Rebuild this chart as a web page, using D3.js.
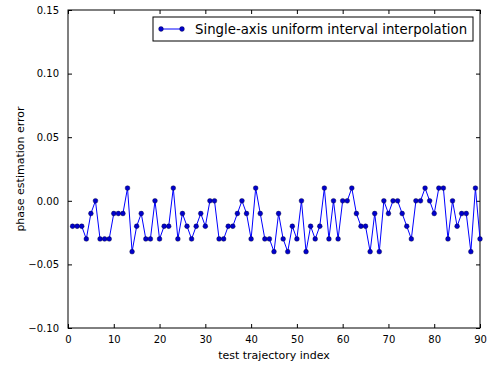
<!DOCTYPE html>
<meta charset="utf-8">
<script src="https://d3js.org/d3.v7.min.js"></script>
<style>
  body { margin: 0; background: #fff; }
  text { font-family: "DejaVu Sans", sans-serif; fill: #000; }
</style>
<div id="my_dataviz"></div>
<script>

// values, index 1..90
var trajIndex = d3.range(1, 91);
var phaseError = [
  -0.02, -0.02, -0.02, -0.03, -0.01,  0.00, -0.03, -0.03, -0.03, -0.01,
  -0.01, -0.01,  0.01, -0.04, -0.02, -0.01, -0.03, -0.03,  0.00, -0.03,
  -0.02, -0.02,  0.01, -0.03, -0.01, -0.02, -0.03, -0.02, -0.01, -0.02,
   0.00,  0.00, -0.03, -0.03, -0.02, -0.02, -0.01,  0.00, -0.01, -0.03,
   0.01, -0.01, -0.03, -0.03, -0.04, -0.01, -0.03, -0.04, -0.02, -0.03,
   0.00, -0.04, -0.02, -0.03, -0.02,  0.01, -0.03,  0.00, -0.03,  0.00,
   0.00,  0.01, -0.01, -0.02, -0.02, -0.04, -0.01, -0.04,  0.00, -0.01,
   0.00,  0.00, -0.01, -0.02, -0.03,  0.00,  0.00,  0.01,  0.00, -0.01,
   0.01,  0.01, -0.03,  0.00, -0.02, -0.01, -0.01, -0.04,  0.01, -0.03
];
var xTicks = [0, 10, 20, 30, 40, 50, 60, 70, 80, 90];
var yTicks = [-0.10, -0.05, 0.00, 0.05, 0.10, 0.15];
var seriesName = "Single-axis uniform interval interpolation";

var margin = {top: 10, right: 10, bottom: 37, left: 68},
    width = 490 - margin.left - margin.right,
    height = 365 - margin.top - margin.bottom;

var svg = d3.select("#my_dataviz")
  .append("svg")
    .attr("width", 490)
    .attr("height", 365)
  .append("g")
    .attr("transform", "translate(" + margin.left + "," + margin.top + ")");

var x = d3.scaleLinear().domain([0, 90]).range([0, width]);
var y = d3.scaleLinear().domain([-0.10, 0.15]).range([height, 0]);

var fmtY = function(d) { return d3.format(".2f")(d).replace("-", "\u2212"); };

// axes with inward ticks on all four sides
svg.append("g")
  .attr("transform", "translate(0," + height + ")")
  .call(d3.axisBottom(x).tickValues(xTicks).tickSizeInner(-4).tickSizeOuter(0).tickPadding(8))
  .call(function(g) { g.select(".domain").remove(); })
  .selectAll("text").style("font-size", "10px");
svg.append("g")
  .call(d3.axisTop(x).tickValues(xTicks).tickSizeInner(-4).tickSizeOuter(0).tickFormat(""))
  .call(function(g) { g.select(".domain").remove(); });
svg.append("g")
  .call(d3.axisLeft(y).tickValues(yTicks).tickFormat(fmtY).tickSizeInner(-4).tickSizeOuter(0).tickPadding(9))
  .call(function(g) { g.select(".domain").remove(); })
  .selectAll("text").style("font-size", "10px");
svg.append("g")
  .attr("transform", "translate(" + width + ",0)")
  .call(d3.axisRight(y).tickValues(yTicks).tickSizeInner(-4).tickSizeOuter(0).tickFormat(""))
  .call(function(g) { g.select(".domain").remove(); });
svg.selectAll(".tick line").attr("stroke", "#000");

// frame
svg.append("rect")
  .attr("width", width).attr("height", height)
  .attr("fill", "none").attr("stroke", "#000").attr("stroke-width", 1);

// series
var pts = trajIndex.map(function(d, i) { return {i: d, v: phaseError[i]}; });
svg.append("path")
  .datum(pts)
  .attr("fill", "none")
  .attr("stroke", "#0000ff")
  .attr("stroke-width", 1)
  .attr("d", d3.line().x(function(d) { return x(d.i); }).y(function(d) { return y(d.v); }));
svg.selectAll("mydots")
  .data(pts)
  .enter()
  .append("circle")
    .attr("cx", function(d) { return x(d.i); })
    .attr("cy", function(d) { return y(d.v); })
    .attr("r", 2.4)
    .attr("fill", "#0000cc")
    .attr("stroke", "#000033")
    .attr("stroke-width", 0.4);

// axis labels
svg.append("text")
  .attr("x", width / 2).attr("y", height + 31)
  .attr("text-anchor", "middle")
  .style("font-size", "11px")
  .text("test trajectory index");
svg.append("text")
  .attr("transform", "translate(-44," + (height / 2) + ")rotate(-90)")
  .attr("text-anchor", "middle")
  .style("font-size", "11px")
  .text("phase estimation error");

// legend
var lg = svg.append("g").attr("transform", "translate(85,7)");
lg.append("rect")
  .attr("width", 320).attr("height", 24)
  .attr("fill", "#fff").attr("stroke", "#000").attr("stroke-width", 1);
lg.append("line")
  .attr("x1", 8).attr("x2", 29).attr("y1", 12).attr("y2", 12)
  .attr("stroke", "#0000ff").attr("stroke-width", 1);
lg.selectAll("lgdot").data([8, 29]).enter().append("circle")
  .attr("cx", function(d) { return d; }).attr("cy", 12).attr("r", 2.4)
  .attr("fill", "#0000cc").attr("stroke", "#000033").attr("stroke-width", 0.4);
lg.append("text")
  .attr("x", 42).attr("y", 12)
  .attr("dy", "0.35em")
  .style("font-size", "13.3px")
  .text(seriesName);

</script>
